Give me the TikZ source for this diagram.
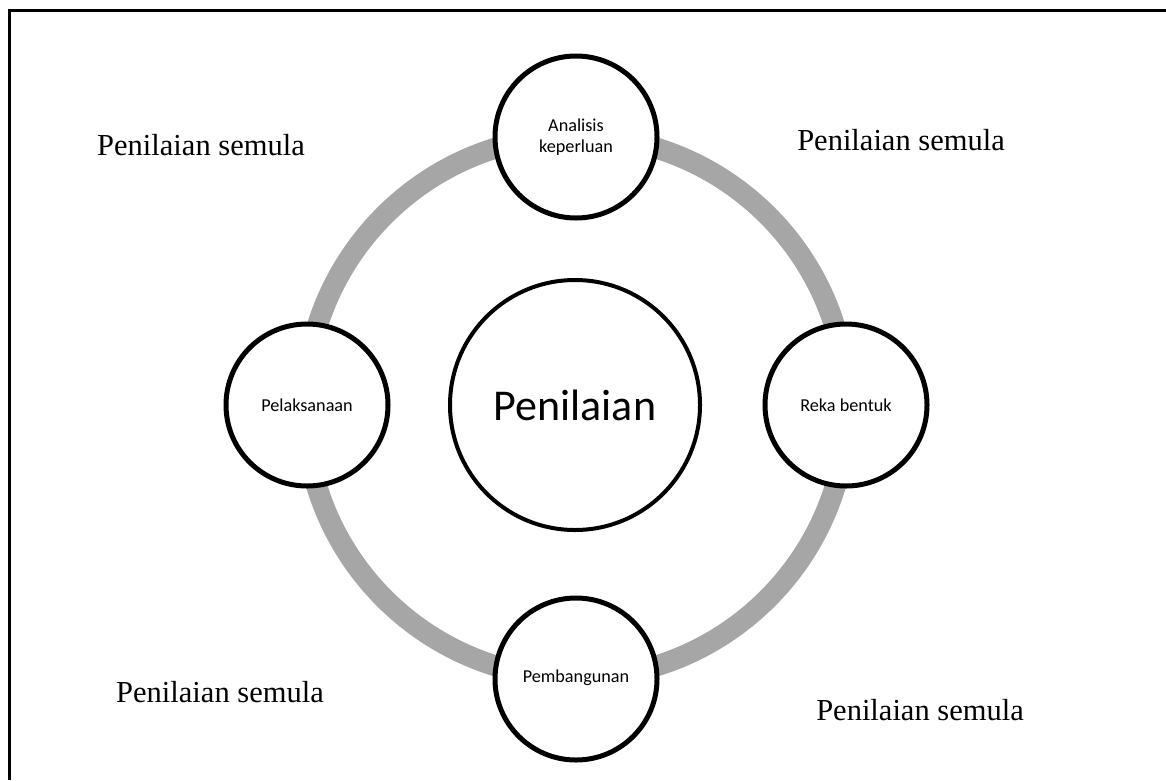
\documentclass[tikz,border=0pt]{standalone}
\usepackage{fontspec}
\setmainfont{Liberation Serif}
\newfontfamily\calib{Carlito}
\definecolor{ringgray}{HTML}{A6A6A6}
\tikzset{
  stage/.style={circle,draw=black,line width=5pt,fill=white,minimum size=162pt,inner sep=0pt,align=center,font=\calib\fontsize{18.2}{21}\selectfont},
  hub/.style={circle,draw=black,line width=4pt,fill=white,minimum size=250pt,inner sep=0pt,font=\calib\fontsize{44}{50}\selectfont},
  note/.style={font=\fontsize{30.5}{34}\selectfont,inner sep=0pt},
}
\begin{document}
\begin{tikzpicture}[x=1pt,y=-1pt]
\useasboundingbox (0,0) rectangle (1166,780);
\fill[white] (0,0) rectangle (1166,780);
\draw[line width=3pt] (9,780) -- (9,10) -- (1166,10);
\coordinate (c) at (576,407);
\draw[ringgray,line width=21pt] (c) circle[radius=271];
\node[hub] (hub) at (575,405) {Penilaian};
\node[stage] (top) at (576,137) {Analisis\\keperluan};
\node[stage] (right) at (846,405) {Reka bentuk};
\node[stage] (bottom) at (576,679) {\raisebox{6pt}{Pembangunan}};
\node[stage] (left) at (307,405) {Pelaksanaan};
\node[note] (tl) at (201,145) {Penilaian semula};
\node[note] (tr) at (901,140) {Penilaian semula};
\node[note] (bl) at (220,692) {Penilaian semula};
\node[note] (br) at (920,710) {Penilaian semula};
\end{tikzpicture}
\end{document}
